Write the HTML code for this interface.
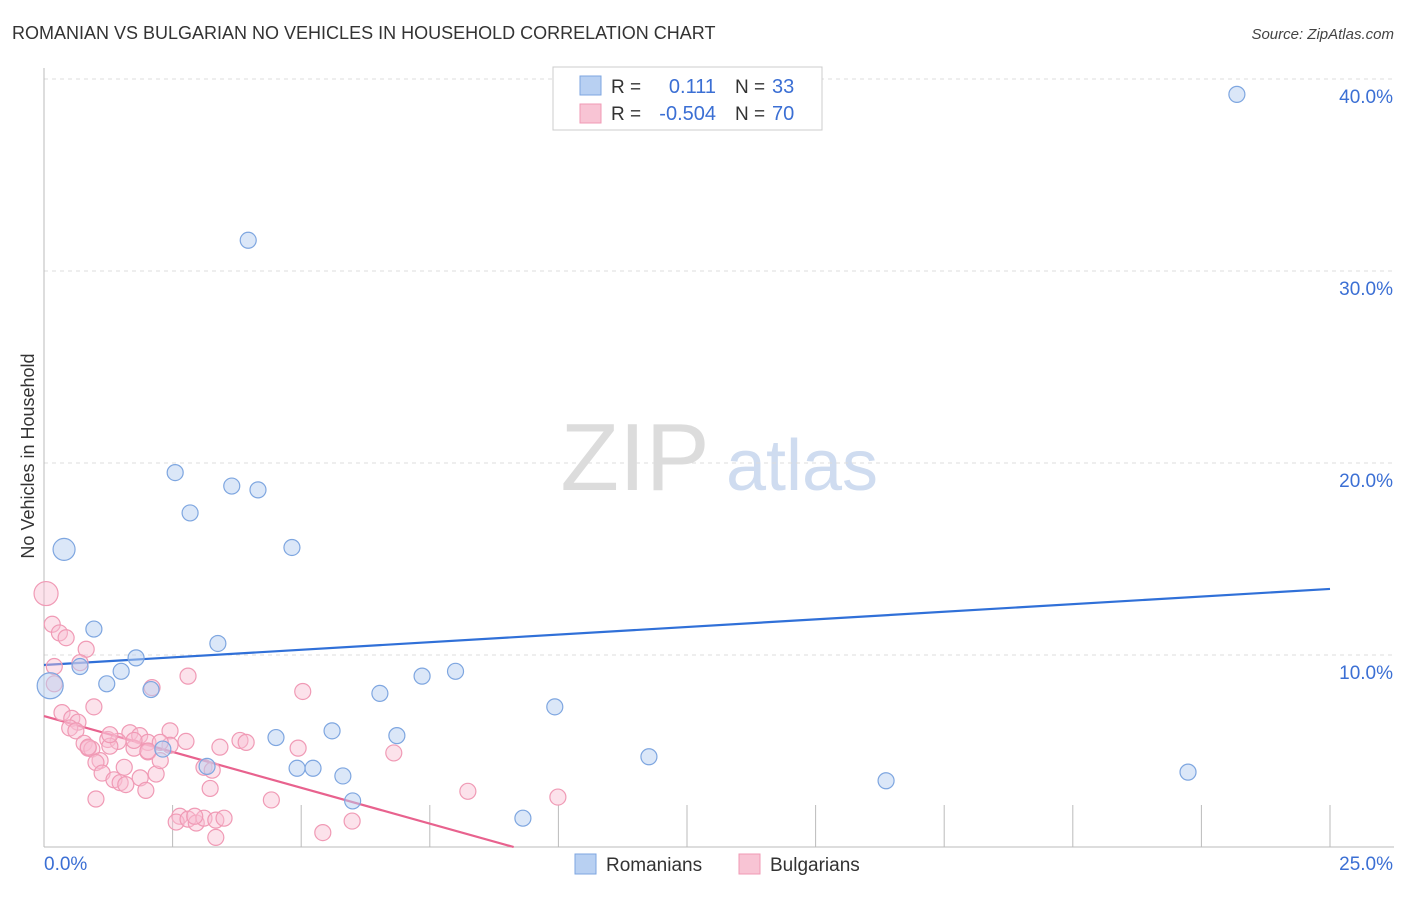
<!DOCTYPE html>
<html><head><meta charset="utf-8"><style>
body{margin:0;background:#fff;font-family:"Liberation Sans",sans-serif}
svg text{font-family:"Liberation Sans",sans-serif}
</style></head><body>
<svg id="chart" width="1406" height="892" xmlns="http://www.w3.org/2000/svg">
<text x="12" y="39" font-size="18" fill="#333">ROMANIAN VS BULGARIAN NO VEHICLES IN HOUSEHOLD CORRELATION CHART</text>
<text x="1394" y="39" font-size="15" fill="#444" font-style="italic" text-anchor="end">Source: ZipAtlas.com</text>
<text x="34" y="456" font-size="18" fill="#333" transform="rotate(-90 34 456)" text-anchor="middle">No Vehicles in Household</text>
<g>
<text x="635" y="490" font-size="96" fill="#dcdcdc" font-family="Liberation Serif" text-anchor="middle">ZIP</text>
<text x="802" y="490" font-size="72" fill="#cfdcf0" text-anchor="middle">atlas</text>
</g>
<g id="grid"></g><g id="axes"></g><g id="trend"></g><g id="pts"></g>
<g>
<rect x="553" y="67" width="269" height="63" fill="#fff" stroke="#ccc"/>
<rect x="580" y="76" width="21" height="19" fill="#b8d0f2" stroke="#7ea6e0"/>
<rect x="580" y="104" width="21" height="19" fill="#f8c4d4" stroke="#f09ab5"/>
<text x="611" y="93" font-size="19" fill="#333">R =</text><text x="716" y="93" font-size="20" fill="#3b6fd4" text-anchor="end">0.111</text>
<text x="735" y="93" font-size="19" fill="#333">N =</text><text x="772" y="93" font-size="20" fill="#3b6fd4">33</text>
<text x="611" y="120" font-size="19" fill="#333">R =</text><text x="716" y="120" font-size="20" fill="#3b6fd4" text-anchor="end">-0.504</text>
<text x="735" y="120" font-size="19" fill="#333">N =</text><text x="772" y="120" font-size="20" fill="#3b6fd4">70</text>
</g>
<g>
<rect x="575" y="854" width="21" height="20" fill="#b8d0f2" stroke="#7ea6e0"/>
<text x="606" y="871" font-size="19" fill="#333">Romanians</text>
<rect x="739" y="854" width="21" height="20" fill="#f8c4d4" stroke="#f09ab5"/>
<text x="770" y="871" font-size="19" fill="#333">Bulgarians</text>
</g>
</svg>
<script>
const yTicks=[10,20,30,40];
const xTickLabels=["0.0%","25.0%"];
const romX=[23.19,3.97,2.55,2.84,3.65,4.16,0.39,4.82,0.97,3.38,1.79,0.70,1.50,0.12,1.22,2.08,6.53,7.35,8.0,9.93,4.51,5.6,6.86,2.31,3.17,4.92,5.23,5.81,6.0,9.31,11.76,16.37,22.24];
const romY=[39.2,31.6,19.5,17.4,18.8,18.6,15.5,15.6,11.35,10.6,9.85,9.4,9.15,8.4,8.5,8.2,8.0,8.9,9.15,7.3,5.7,6.05,5.8,5.1,4.2,4.1,4.1,3.7,2.4,1.5,4.7,3.45,3.9];
const bulX=[0.04,0.16,0.3,0.43,0.82,0.2,0.7,0.2,2.8,2.1,5.03,0.97,0.35,0.54,0.66,0.5,0.62,2.45,1.67,1.86,1.24,0.78,1.44,2.02,2.76,3.81,3.93,0.86,0.93,1.28,1.75,2.02,3.42,4.94,1.09,1.01,1.56,3.11,3.27,6.8,1.13,2.18,1.36,1.48,1.59,1.87,3.23,1.98,8.24,1.01,4.42,9.99,2.64,2.57,2.8,2.96,3.11,3.34,3.5,5.99,5.42,3.34,2.26,1.75,2.45,1.28,2.26,0.86,2.02,2.93];
const bulY=[13.2,11.6,11.15,10.9,10.3,9.4,9.6,8.5,8.9,8.3,8.1,7.3,7.0,6.7,6.5,6.2,6.05,6.05,5.95,5.8,5.6,5.4,5.5,5.45,5.5,5.55,5.45,5.15,5.1,5.25,5.15,4.95,5.2,5.15,4.5,4.4,4.15,4.15,4.0,4.9,3.85,3.8,3.5,3.35,3.25,3.6,3.05,2.95,2.9,2.5,2.45,2.6,1.6,1.3,1.45,1.25,1.5,1.4,1.5,1.35,0.75,0.5,4.5,5.55,5.3,5.85,5.45,5.2,5.0,1.6];
const romTrend=[9.48,13.44];
const bulTrend=[6.82,-0.747];
const X=v=>44+v*51.44, Y=v=>847-v*19.2;
const NS="http://www.w3.org/2000/svg";
function mk(p,t,a){const e=document.createElementNS(NS,t);for(const k in a)e.setAttribute(k,a[k]);p.appendChild(e);return e;}
const grid=document.getElementById('grid'),axes=document.getElementById('axes'),tr=document.getElementById('trend'),pts=document.getElementById('pts');
yTicks.forEach(t=>{
const l=mk(grid,'line',{x1:44,x2:1394,y1:Y(t),y2:Y(t),stroke:'#ddd','stroke-dasharray':'4,4'});


const tx=mk(axes,'text',{x:1393,y:Y(t)+24,'font-size':19,fill:'#3b6fd4','text-anchor':'end'});
tx.textContent=t.toFixed(1)+'%';


});
const ax=mk(axes,'line',{x1:44,x2:44,y1:68,y2:847,stroke:'#bbb'});


const bx=mk(axes,'line',{x1:44,x2:1394,y1:847,y2:847,stroke:'#bbb'});


for(let i=1;i<=10;i++){const t=mk(axes,'line',{x1:X(i*2.5),x2:X(i*2.5),y1:805,y2:847,stroke:'#bbb'});

}
const xl0=mk(axes,'text',{x:44,y:870,'font-size':19,fill:'#3b6fd4'});xl0.textContent=xTickLabels[0];


const xl1=mk(axes,'text',{x:1393,y:870,'font-size':19,fill:'#3b6fd4','text-anchor':'end'});xl1.textContent=xTickLabels[1];


const rl=mk(tr,'line',{x1:X(0),y1:Y(romTrend[0]),x2:X(25),y2:Y(romTrend[1]),stroke:'#3070d8','stroke-width':2.2});


const xe=-bulTrend[0]/bulTrend[1];
const bl=mk(tr,'line',{x1:X(0),y1:Y(bulTrend[0]),x2:X(xe),y2:Y(0),stroke:'#e8628e','stroke-width':2.2});


bulX.forEach((x,i)=>{const c=mk(pts,'circle',{cx:X(x),cy:Y(bulY[i]),r:i==0?12:8,fill:'rgba(248,190,210,0.45)',stroke:'#f09ab5','stroke-width':1.2});

});
romX.forEach((x,i)=>{const big=(i==6||i==13);const c=mk(pts,'circle',{cx:X(x),cy:Y(romY[i]),r:big?(i==13?13:11):8,fill:'rgba(184,208,242,0.5)',stroke:'#7ea6e0','stroke-width':1.2});

});
</script>
</body></html>
